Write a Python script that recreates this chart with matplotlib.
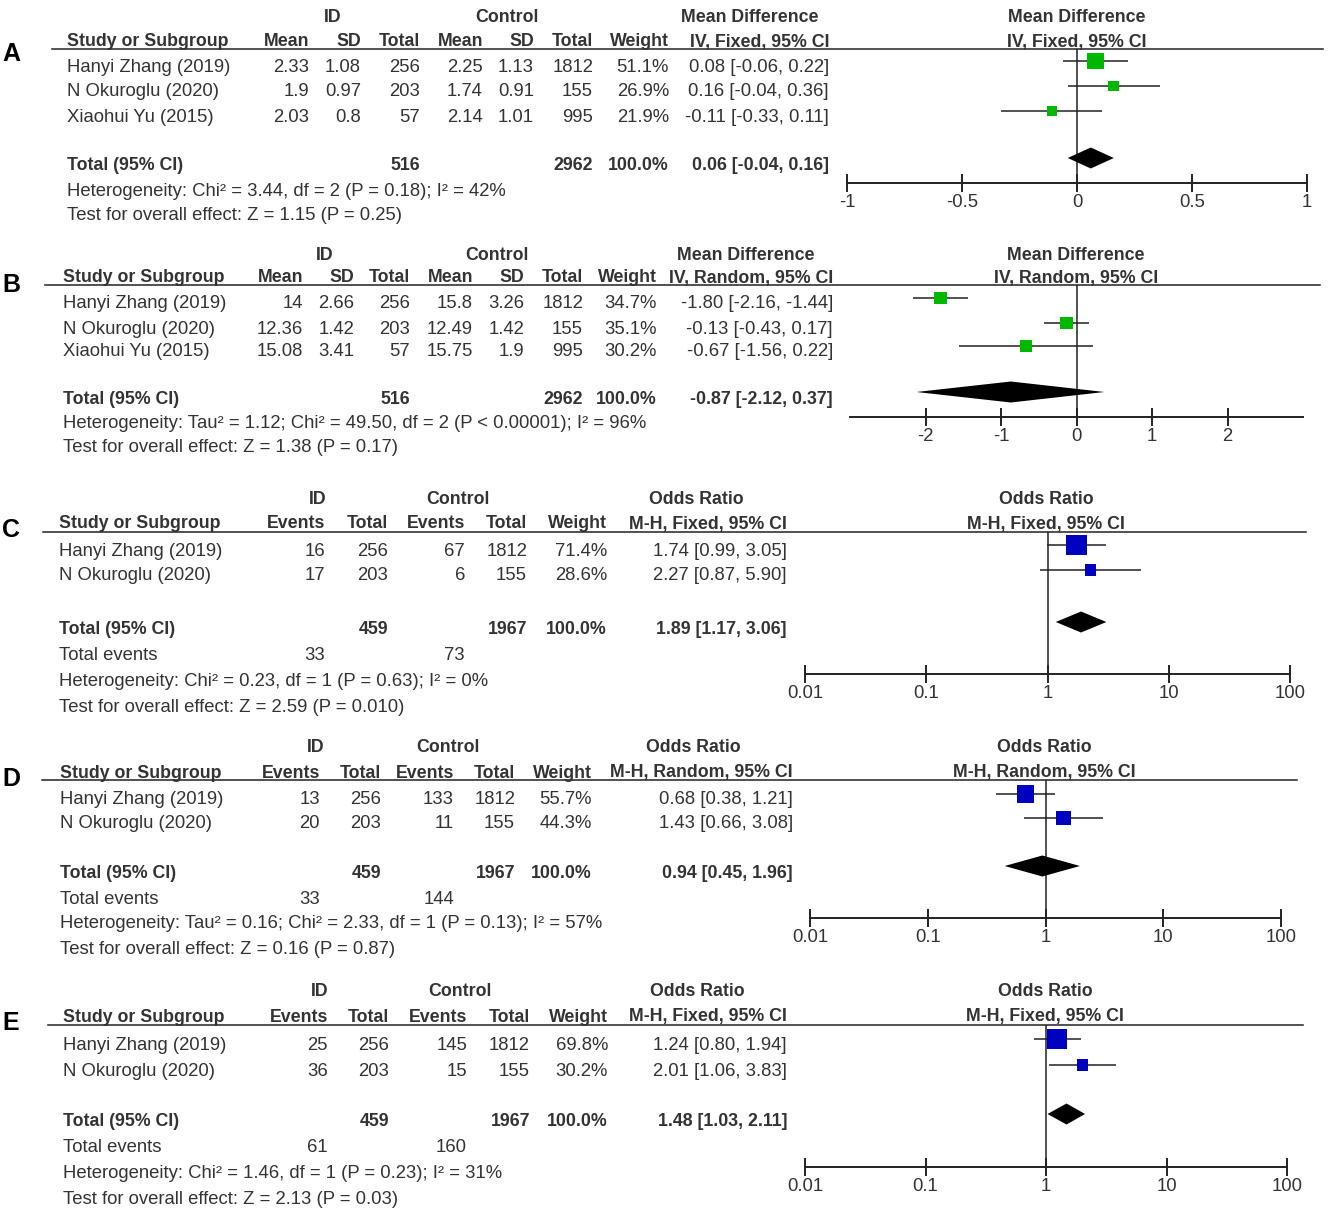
import numpy as np
import matplotlib.pyplot as plt
from matplotlib.ticker import NullLocator

plt.rcParams['font.family'] = ['Liberation Sans', 'DejaVu Sans']

W, H = 1330, 1210
TXT = '#333333'
LINE = '#222222'
GREEN = '#00b800'
BLUE = '#0000c0'
FS = 13.3
FSB = 12.8

# ---- data ----
studies3 = ['Hanyi Zhang (2019)', 'N Okuroglu (2020)', 'Xiaohui Yu (2015)']
studies2 = ['Hanyi Zhang (2019)', 'N Okuroglu (2020)']

# A: mean difference, fixed
a_id_mean = [2.33, 1.9, 2.03]
a_id_sd = [1.08, 0.97, 0.8]
a_id_n = [256, 203, 57]
a_ct_mean = [2.25, 1.74, 2.14]
a_ct_sd = [1.13, 0.91, 1.01]
a_ct_n = [1812, 155, 995]
a_weight = [51.1, 26.9, 21.9]
a_est = [0.08, 0.16, -0.11]
a_lo = [-0.06, -0.04, -0.33]
a_hi = [0.22, 0.36, 0.11]
a_total = [0.06, -0.04, 0.16]
a_het = 'Heterogeneity: Chi\u00b2 = 3.44, df = 2 (P = 0.18); I\u00b2 = 42%'
a_test = 'Test for overall effect: Z = 1.15 (P = 0.25)'

# B: mean difference, random
b_id_mean = [14, 12.36, 15.08]
b_id_sd = [2.66, 1.42, 3.41]
b_id_n = [256, 203, 57]
b_ct_mean = [15.8, 12.49, 15.75]
b_ct_sd = [3.26, 1.42, 1.9]
b_ct_n = [1812, 155, 995]
b_weight = [34.7, 35.1, 30.2]
b_est = [-1.80, -0.13, -0.67]
b_lo = [-2.16, -0.43, -1.56]
b_hi = [-1.44, 0.17, 0.22]
b_total = [-0.87, -2.12, 0.37]
b_het = 'Heterogeneity: Tau\u00b2 = 1.12; Chi\u00b2 = 49.50, df = 2 (P < 0.00001); I\u00b2 = 96%'
b_test = 'Test for overall effect: Z = 1.38 (P = 0.17)'

# C: odds ratio, fixed
c_id_ev = [16, 17]
c_id_n = [256, 203]
c_ct_ev = [67, 6]
c_ct_n = [1812, 155]
c_weight = [71.4, 28.6]
c_est = [1.74, 2.27]
c_lo = [0.99, 0.87]
c_hi = [3.05, 5.90]
c_total = [1.89, 1.17, 3.06]
c_het = 'Heterogeneity: Chi\u00b2 = 0.23, df = 1 (P = 0.63); I\u00b2 = 0%'
c_test = 'Test for overall effect: Z = 2.59 (P = 0.010)'

# D: odds ratio, random
d_id_ev = [13, 20]
d_id_n = [256, 203]
d_ct_ev = [133, 11]
d_ct_n = [1812, 155]
d_weight = [55.7, 44.3]
d_est = [0.68, 1.43]
d_lo = [0.38, 0.66]
d_hi = [1.21, 3.08]
d_total = [0.94, 0.45, 1.96]
d_het = 'Heterogeneity: Tau\u00b2 = 0.16; Chi\u00b2 = 2.33, df = 1 (P = 0.13); I\u00b2 = 57%'
d_test = 'Test for overall effect: Z = 0.16 (P = 0.87)'

# E: odds ratio, fixed
e_id_ev = [25, 36]
e_id_n = [256, 203]
e_ct_ev = [145, 15]
e_ct_n = [1812, 155]
e_weight = [69.8, 30.2]
e_est = [1.24, 2.01]
e_lo = [0.80, 1.06]
e_hi = [1.94, 3.83]
e_total = [1.48, 1.03, 2.11]
e_het = 'Heterogeneity: Chi\u00b2 = 1.46, df = 1 (P = 0.23); I\u00b2 = 31%'
e_test = 'Test for overall effect: Z = 2.13 (P = 0.03)'

md_ticks = [-1, -0.5, 0, 0.5, 1]
md_ticklabels = ['-1', '-0.5', '0', '0.5', '1']
md2_ticks = [-2, -1, 0, 1, 2]
md2_ticklabels = ['-2', '-1', '0', '1', '2']
or_ticks = [0.01, 0.1, 1, 10, 100]
or_ticklabels = ['0.01', '0.1', '1', '10', '100']

fig = plt.figure(figsize=(W / 100, H / 100), dpi=100)
bg = fig.add_axes([0, 0, 1, 1])
bg.set_xlim(0, W)
bg.set_ylim(H, 0)
bg.axis('off')


def put(x, y, s, ha='left', bold=False):
    # y is the visual centre of the caps; place baseline below it
    bg.text(x, y + 6.5, s, ha=ha, va='baseline', color=TXT,
            fontsize=FSB if bold else FS, fontweight='bold' if bold else 'normal')


def ci_str(e, l, h):
    return '%.2f [%.2f, %.2f]' % (e, l, h)


def draw_table(lay, letter, groups, colnames, body, tot, events, het, test):
    bg.text(11, lay['lab'] + 9, letter, ha='center', va='baseline', fontsize=18,
            fontweight='bold', color='black')
    for lab, x in zip(groups, lay['gx']):
        put(x, lay['g'], lab, ha='center', bold=True)
    put(lay['left'], lay['hdr'], 'Study or Subgroup', bold=True)
    for lab, x in zip(colnames, lay['cols']):
        put(x, lay['hdr'], lab, ha='right', bold=True)
    put(lay['pc'], lay['g'], groups[-1], ha='center', bold=True)
    put(lay['pc'], lay['hdr'], colnames[-1], ha='center', bold=True)
    bg.plot([lay['l0'], lay['l1']], [lay['line'], lay['line']], color=LINE, lw=1.1)
    for i, row in enumerate(body):
        y = lay['rows'][i]
        put(lay['left'], y, row[0])
        for s, x in zip(row[1:], lay['cols']):
            put(x, y, s, ha='right')
    put(lay['left'], lay['tot'], 'Total (95% CI)', bold=True)
    for j, s in tot.items():
        put(lay['cols'][j], lay['tot'], s, ha='right', bold=True)
    if events:
        put(lay['left'], lay['ev'], 'Total events')
        for j, s in events.items():
            put(lay['cols'][j], lay['ev'], s, ha='right')
    put(lay['left'], lay['het'], het)
    put(lay['left'], lay['test'], test)


def draw_forest(lay, est, lo, hi, weight, total, color, log, xlim, ticks, ticklabels):
    x0, x1 = lay['ax']
    top, bot = lay['line'], lay['axis']
    ax = fig.add_axes([x0 / W, 1 - bot / H, (x1 - x0) / W, (bot - top) / H])
    ax.patch.set_visible(False)
    if log:
        ax.set_xscale('log')
    ax.set_xlim(xlim)
    ax.set_ylim(bot, top)
    for s in ['top', 'left', 'right']:
        ax.spines[s].set_visible(False)
    ax.spines['bottom'].set_color(LINE)
    ax.spines['bottom'].set_linewidth(1.4)
    ax.set_yticks([])
    ax.set_xticks(ticks)
    ax.set_xticklabels(ticklabels)
    ax.xaxis.set_minor_locator(NullLocator())
    ax.tick_params(axis='x', direction='inout', length=13, width=1.4, color=LINE,
                   labelcolor=TXT, labelsize=FS, pad=1.5)
    ax.axvline(1 if log else 0, color=LINE, lw=1.1)
    ys = np.array(lay['rows'][:len(est)]) - 4
    ax.hlines(ys, lo, hi, color=LINE, lw=1.1, zorder=2)
    side = 0.22 * np.array(weight) + 5
    ax.scatter(est, ys, marker='s', s=(side * 0.72) ** 2, color=color,
               edgecolors='none', zorder=3)
    yd = lay['tot'] - 5
    te, tl, th = total
    ax.fill([tl, te, th, te], [yd, yd - 10.5, yd, yd + 10.5], color='black', lw=0, zorder=3)


# ---- panel A ----
lay_a = dict(lab=52, g=15, hdr=40, line=48.5, rows=[65, 90, 115], tot=163, ev=None,
             het=189, test=213, axis=183, left=67, l0=52, l1=1323, pc=1077,
             gx=[333, 507, 750], cols=[309, 361, 420, 483, 534, 593, 669, 829],
             ax=(847, 1307))
body_a = [[studies3[i], str(a_id_mean[i]), str(a_id_sd[i]), str(a_id_n[i]),
           str(a_ct_mean[i]), str(a_ct_sd[i]), str(a_ct_n[i]), '%.1f%%' % a_weight[i],
           ci_str(a_est[i], a_lo[i], a_hi[i])] for i in range(3)]
draw_table(lay_a, 'A', ['ID', 'Control', 'Mean Difference'],
           ['Mean', 'SD', 'Total', 'Mean', 'SD', 'Total', 'Weight', 'IV, Fixed, 95% CI'],
           body_a, {2: str(sum(a_id_n)), 5: str(sum(a_ct_n)), 6: '100.0%', 7: ci_str(*a_total)},
           None, a_het, a_test)
draw_forest(lay_a, a_est, a_lo, a_hi, a_weight, a_total, GREEN, False, (-1, 1),
            md_ticks, md_ticklabels)

# ---- panel B ----
lay_b = dict(lab=283, g=253, hdr=276, line=284.5, rows=[302, 327, 350], tot=397, ev=None,
             het=422, test=446, axis=417, left=63, l0=45, l1=1320, pc=1076,
             gx=[325, 497, 746], cols=[303, 354, 410, 473, 524, 583, 657, 833],
             ax=(850, 1303))
body_b = [[studies3[i], str(b_id_mean[i]), str(b_id_sd[i]), str(b_id_n[i]),
           str(b_ct_mean[i]), str(b_ct_sd[i]), str(b_ct_n[i]), '%.1f%%' % b_weight[i],
           ci_str(b_est[i], b_lo[i], b_hi[i])] for i in range(3)]
draw_table(lay_b, 'B', ['ID', 'Control', 'Mean Difference'],
           ['Mean', 'SD', 'Total', 'Mean', 'SD', 'Total', 'Weight', 'IV, Random, 95% CI'],
           body_b, {2: str(sum(b_id_n)), 5: str(sum(b_ct_n)), 6: '100.0%', 7: ci_str(*b_total)},
           None, b_het, b_test)
draw_forest(lay_b, b_est, b_lo, b_hi, b_weight, b_total, GREEN, False, (-3, 3),
            md2_ticks, md2_ticklabels)


def or_body(id_ev, id_n, ct_ev, ct_n, weight, est, lo, hi):
    return [[studies2[i], str(id_ev[i]), str(id_n[i]), str(ct_ev[i]), str(ct_n[i]),
             '%.1f%%' % weight[i], ci_str(est[i], lo[i], hi[i])] for i in range(2)]


or_cols = ['Events', 'Total', 'Events', 'Total', 'Weight']

# ---- panel C ----
lay_c = dict(lab=528, g=497, hdr=522, line=531.5, rows=[549, 574], tot=627, ev=653,
             het=679, test=705, axis=674, left=59, l0=43, l1=1306, pc=1046,
             gx=[318, 458, 696], cols=[325, 388, 465, 527, 607, 787], ax=(805, 1290))
draw_table(lay_c, 'C', ['ID', 'Control', 'Odds Ratio'], or_cols + ['M-H, Fixed, 95% CI'],
           or_body(c_id_ev, c_id_n, c_ct_ev, c_ct_n, c_weight, c_est, c_lo, c_hi),
           {1: str(sum(c_id_n)), 3: str(sum(c_ct_n)), 4: '100.0%', 5: ci_str(*c_total)},
           {0: str(sum(c_id_ev)), 2: str(sum(c_ct_ev))}, c_het, c_test)
draw_forest(lay_c, c_est, c_lo, c_hi, c_weight, c_total, BLUE, True, (0.01, 100),
            or_ticks, or_ticklabels)

# ---- panel D ----
lay_d = dict(lab=777, g=745, hdr=771, line=780, rows=[798, 822], tot=871, ev=897,
             het=922, test=947, axis=918, left=60, l0=42, l1=1297, pc=1044,
             gx=[316, 448, 693], cols=[320, 381, 454, 515, 592, 793], ax=(810, 1281))
draw_table(lay_d, 'D', ['ID', 'Control', 'Odds Ratio'], or_cols + ['M-H, Random, 95% CI'],
           or_body(d_id_ev, d_id_n, d_ct_ev, d_ct_n, d_weight, d_est, d_lo, d_hi),
           {1: str(sum(d_id_n)), 3: str(sum(d_ct_n)), 4: '100.0%', 5: ci_str(*d_total)},
           {0: str(sum(d_id_ev)), 2: str(sum(d_ct_ev))}, d_het, d_test)
draw_forest(lay_d, d_est, d_lo, d_hi, d_weight, d_total, BLUE, True, (0.01, 100),
            or_ticks, or_ticklabels)

# ---- panel E ----
lay_e = dict(lab=1021, g=990, hdr=1015, line=1025, rows=[1043, 1069], tot=1119, ev=1146,
             het=1172, test=1197, axis=1167, left=63, l0=48, l1=1303, pc=1045,
             gx=[320, 460, 697], cols=[328, 389, 467, 530, 608, 787], ax=(805, 1287))
draw_table(lay_e, 'E', ['ID', 'Control', 'Odds Ratio'], or_cols + ['M-H, Fixed, 95% CI'],
           or_body(e_id_ev, e_id_n, e_ct_ev, e_ct_n, e_weight, e_est, e_lo, e_hi),
           {1: str(sum(e_id_n)), 3: str(sum(e_ct_n)), 4: '100.0%', 5: ci_str(*e_total)},
           {0: str(sum(e_id_ev)), 2: str(sum(e_ct_ev))}, e_het, e_test)
draw_forest(lay_e, e_est, e_lo, e_hi, e_weight, e_total, BLUE, True, (0.01, 100),
            or_ticks, or_ticklabels)

fig.savefig('out.png', dpi=100)
